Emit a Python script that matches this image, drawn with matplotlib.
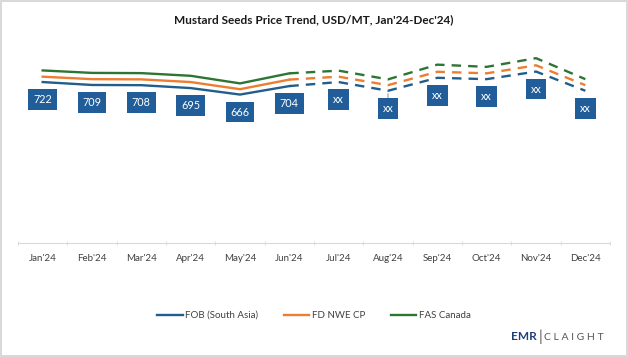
import matplotlib
matplotlib.use('Agg')
import matplotlib.pyplot as plt

plt.rcParams['font.family'] = ['Lato', 'DejaVu Sans']

months = ["Jan'24", "Feb'24", "Mar'24", "Apr'24", "May'24", "Jun'24",
          "Jul'24", "Aug'24", "Sep'24", "Oct'24", "Nov'24", "Dec'24"]
fob = [722, 709, 708, 695, 666, 704, 722, 683, 741, 735, 769, 683]
fd_nwe = [746, 735, 734, 722, 690, 733, 746, 708, 768, 761, 797, 708]
fas_canada = [774, 763, 762, 750, 716, 761, 773, 734, 800, 790, 829, 735]
labels = ['722', '709', '708', '695', '666', '704', 'xx', 'xx', 'xx', 'xx', 'xx', 'xx']
n_actual = 6  # Jan-Jun actual, Jun-Dec forecast (dashed)

c_fob = '#215E8C'
c_fd = '#ED7D31'
c_fas = '#2E7533'
box_col = '#215E99'

fig = plt.figure(figsize=(6.28, 3.57), dpi=100)
fig.patch.set_edgecolor('#D9D9D9')
fig.patch.set_linewidth(1.5)
ax = fig.add_axes([18/628, 113.7/357, 592/628, 201/357])

x = list(range(len(months)))
for vals, col, name in [(fob, c_fob, 'FOB (South Asia)'),
                        (fd_nwe, c_fd, 'FD NWE CP'),
                        (fas_canada, c_fas, 'FAS Canada')]:
    ax.plot(x[:n_actual], vals[:n_actual], color=col, lw=1.7, label=name)
    ax.plot(x[n_actual-1:], vals[n_actual-1:], color=col, lw=1.7,
            dashes=(4, 3))

for i, (v, lab) in enumerate(zip(fob, labels)):
    ap = None
    if i == 7:
        ap = dict(arrowstyle='-', color='#7F7F7F', lw=0.6, shrinkA=0, shrinkB=2)
    ax.annotate(lab, (i, v), xytext=(0, -12.6), textcoords='offset points',
                ha='center', va='center', color='white', fontsize=7.8,
                bbox=dict(boxstyle='square,pad=0.45', fc=box_col, ec='none'),
                arrowprops=ap)

ax.set_xlim(-0.5, len(months) - 0.5)
ax.set_ylim(0, 900)
ax.set_yticks([])
ax.set_xticks(x)
ax.set_xticklabels(months, fontsize=7, color='#404040')
ax.set_xticks([i + 0.5 for i in range(-1, len(months))], minor=True)
ax.tick_params(axis='x', which='major', length=0, pad=8)
ax.tick_params(axis='x', which='minor', length=3, color='#D9D9D9', direction='inout')
for s in ['top', 'left', 'right']:
    ax.spines[s].set_visible(False)
ax.spines['bottom'].set_color('#D9D9D9')

fig.text(0.5, 1 - 20/357, "Mustard Seeds Price Trend, USD/MT, Jan'24-Dec'24)",
         ha='center', va='center', fontsize=8.5, fontweight='bold', color='#1A1A1A')

handles, labs = ax.get_legend_handles_labels()
fig.legend(handles, labs, loc='center', bbox_to_anchor=(0.5, 1 - 315.5/357),
           ncol=3, frameon=False, fontsize=7, handlelength=2.6,
           columnspacing=2.6, handletextpad=0.3, labelcolor='#404040')

# logo
fig.text(537/628, 1 - 337/357, 'EMR', ha='right', va='center', fontsize=8.5,
         fontweight='bold', color='#1F3F77')
fig.text(540/628, 1 - 337/357, '|', ha='center', va='center', fontsize=11,
         color='#555555')
fig.text(544/628, 1 - 337/357, 'C L A I G H T', ha='left', va='center',
         fontsize=7.5, color='#555555')

fig.savefig('out.png', dpi=100)
